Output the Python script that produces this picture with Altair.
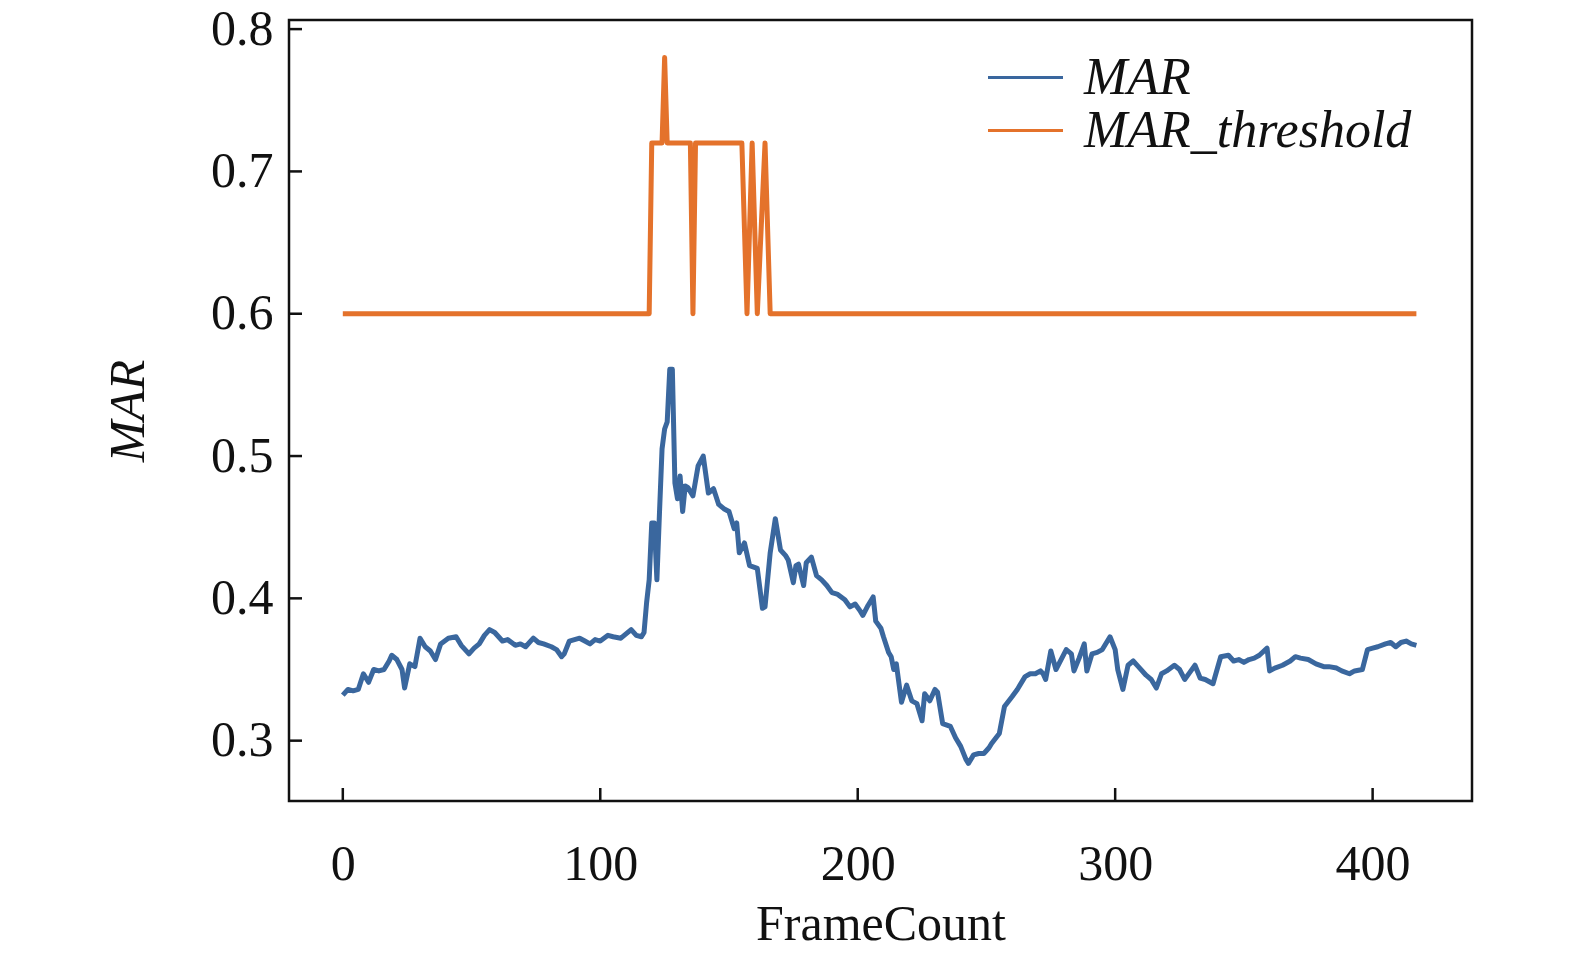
import altair as alt
import pandas as pd

# MAR curve (frame, value)
mar_frames = [0, 2, 4, 6, 8, 10, 12, 14, 16, 18, 19, 21, 23, 24, 26, 28, 30, 32, 34, 36,
              38, 41, 44, 46, 49, 51, 53, 55, 57, 59, 62, 64, 67, 69, 71, 74, 76, 78, 81, 83,
              85, 86, 88, 90, 92, 94, 96, 98, 100, 103, 105, 108, 110, 112, 114, 116, 117, 118, 119, 120,
              121, 122, 123, 124, 125, 126, 127, 128, 129, 130, 131, 132, 133, 134, 136, 138, 140, 142, 144, 146,
              148, 150, 152, 153, 154, 156, 158, 161, 163, 164, 166, 168, 170, 172, 173, 175, 176, 177, 179, 180,
              182, 184, 186, 188, 190, 192, 195, 197, 199, 201, 202, 204, 206, 207, 209, 210, 212, 213, 214, 215,
              217, 219, 221, 223, 225, 226, 228, 230, 231, 233, 236, 238, 240, 242, 243, 245, 247, 249, 251, 252,
              255, 257, 260, 262, 265, 267, 269, 271, 272, 273, 275, 277, 279, 281, 283, 284, 286, 288, 289, 291,
              293, 295, 297, 298, 300, 301, 303, 305, 307, 309, 312, 314, 316, 318, 320, 323, 325, 327, 329, 331,
              333, 335, 338, 341, 344, 346, 348, 350, 352, 354, 356, 359, 360, 362, 365, 368, 370, 372, 375, 378,
              381, 383, 386, 388, 391, 393, 396, 398, 400, 402, 405, 407, 409, 411, 413, 415, 417]
mar_values = [0.332, 0.336, 0.335, 0.336, 0.347, 0.341, 0.350, 0.349, 0.350, 0.356, 0.360, 0.357, 0.350, 0.337, 0.354, 0.352, 0.372, 0.366, 0.363, 0.357,
              0.368, 0.372, 0.373, 0.367, 0.361, 0.365, 0.368, 0.374, 0.378, 0.376, 0.370, 0.371, 0.367, 0.368, 0.366, 0.372, 0.369, 0.368, 0.366, 0.364,
              0.359, 0.361, 0.370, 0.371, 0.372, 0.370, 0.368, 0.371, 0.370, 0.374, 0.373, 0.372, 0.375, 0.378, 0.374, 0.373, 0.376, 0.397, 0.413, 0.453,
              0.453, 0.413, 0.460, 0.505, 0.519, 0.524, 0.561, 0.561, 0.481, 0.470, 0.486, 0.461, 0.479, 0.478, 0.472, 0.493, 0.500, 0.474, 0.477, 0.466,
              0.463, 0.461, 0.449, 0.453, 0.432, 0.439, 0.423, 0.421, 0.393, 0.394, 0.432, 0.456, 0.434, 0.430, 0.427, 0.411, 0.423, 0.424, 0.409, 0.425,
              0.429, 0.416, 0.413, 0.409, 0.404, 0.403, 0.399, 0.394, 0.396, 0.391, 0.388, 0.395, 0.401, 0.384, 0.379, 0.373, 0.362, 0.359, 0.350, 0.354,
              0.327, 0.339, 0.328, 0.326, 0.314, 0.333, 0.328, 0.336, 0.334, 0.312, 0.310, 0.302, 0.296, 0.287, 0.284, 0.290, 0.291, 0.291, 0.295, 0.298,
              0.305, 0.324, 0.331, 0.336, 0.345, 0.347, 0.347, 0.349, 0.347, 0.343, 0.363, 0.350, 0.357, 0.364, 0.361, 0.349, 0.358, 0.368, 0.349, 0.361,
              0.362, 0.364, 0.370, 0.373, 0.364, 0.350, 0.336, 0.353, 0.356, 0.352, 0.346, 0.343, 0.337, 0.347, 0.349, 0.353, 0.350, 0.343, 0.348, 0.353,
              0.344, 0.343, 0.340, 0.359, 0.360, 0.356, 0.357, 0.355, 0.357, 0.358, 0.360, 0.365, 0.349, 0.351, 0.353, 0.356, 0.359, 0.358, 0.357, 0.354,
              0.352, 0.352, 0.351, 0.349, 0.347, 0.349, 0.350, 0.364, 0.365, 0.366, 0.368, 0.369, 0.366, 0.369, 0.370, 0.368, 0.367]

# MAR_threshold step signal (change points)
thr_frames = [0, 119, 120, 124, 125, 126, 135, 136, 137, 155, 157, 159, 161, 164, 166, 417]
thr_values = [0.60, 0.60, 0.72, 0.72, 0.78, 0.72, 0.72, 0.60, 0.72, 0.72, 0.60, 0.72, 0.60, 0.72, 0.60, 0.60]

series_names = ["MAR", "MAR_threshold"]
series_colors = ["#3a679e", "#e4722b"]

x_ticks = [0, 100, 200, 300, 400]
y_ticks = [0.3, 0.4, 0.5, 0.6, 0.7, 0.8]

rows = [{"frame": f, "value": v, "series": "MAR", "order": i} for i, (f, v) in enumerate(zip(mar_frames, mar_values))]
rows += [{"frame": f, "value": v, "series": "MAR_threshold", "order": i} for i, (f, v) in enumerate(zip(thr_frames, thr_values))]
df = pd.DataFrame(rows)

FONT = "Liberation Serif"
W, H = 1183, 781
xscale = alt.Scale(domain=[-20.9, 438.6], nice=False, zero=False)
yscale = alt.Scale(domain=[0.2576, 0.8064], nice=False, zero=False)

lines = alt.Chart(df).mark_line(strokeWidth=5, strokeJoin="round").encode(
    x=alt.X("frame:Q", scale=xscale, title="FrameCount",
            axis=alt.Axis(values=x_ticks, format="d", grid=False, domain=False, ticks=False, tickSize=0,
                          labelFont=FONT, labelFontSize=50, labelColor="#111", labelPadding=38,
                          titleFont=FONT, titleFontSize=50, titleFontWeight="normal", titleColor="#111",
                          titlePadding=10)),
    y=alt.Y("value:Q", scale=yscale, title="MAR",
            axis=alt.Axis(values=y_ticks, format=".1f", grid=False, domain=False, ticks=False, tickSize=0,
                          labelFont=FONT, labelFontSize=50, labelColor="#111", labelPadding=16,
                          titleFont=FONT, titleFontSize=50, titleFontWeight="normal", titleFontStyle="italic",
                          titleColor="#111", titlePadding=57)),
    color=alt.Color("series:N", scale=alt.Scale(domain=series_names, range=series_colors),
                    legend=alt.Legend(title=None, orient="none", legendX=710, legendY=31,
                                      symbolType="M-1.5,0L1.5,0", symbolSize=2500, symbolStrokeWidth=3,
                                      labelFont=FONT, labelFontSize=52, labelFontStyle="italic",
                                      labelColor="#111", labelOffset=32, labelLimit=600,
                                      rowPadding=0, padding=0)),
    order="order:Q",
)

xt = alt.Chart(pd.DataFrame({"t": x_ticks})).mark_rule(color="#111", strokeWidth=2.5).encode(
    x=alt.X("t:Q", scale=xscale), y=alt.value(H), y2=alt.value(H - 13))
yt = alt.Chart(pd.DataFrame({"t": y_ticks})).mark_rule(color="#111", strokeWidth=2.5).encode(
    y=alt.Y("t:Q", scale=yscale), x=alt.value(0), x2=alt.value(13))

chart = alt.layer(lines, xt, yt).properties(
    width=W, height=H,
    autosize="none",
    padding={"left": 281, "top": 12, "right": 20, "bottom": 150},
).configure(background="white").configure_view(stroke="#111", strokeWidth=2.5)

chart.save("out.html", embed_options={"renderer": "svg", "actions": False})
